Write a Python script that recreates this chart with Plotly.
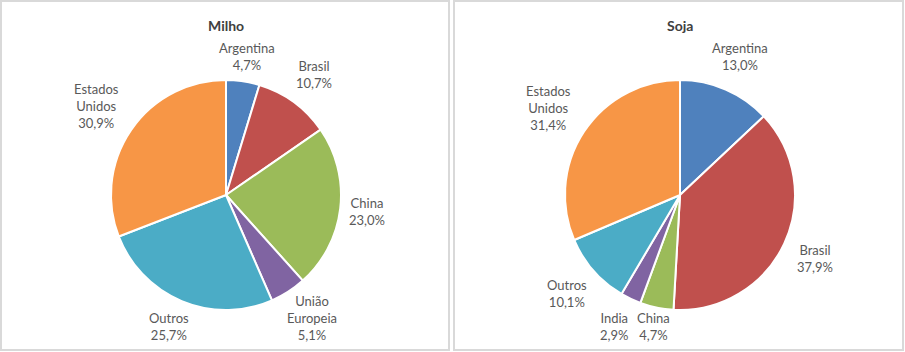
import math
import plotly.graph_objects as go

# Data
milho_categories = ["Argentina", "Brasil", "China", "União Europeia", "Outros", "Estados Unidos"]
milho_values = [4.7, 10.7, 23.0, 5.1, 25.7, 30.9]

soja_categories = ["Argentina", "Brasil", "China", "India", "Outros", "Estados Unidos"]
soja_values = [13.0, 37.9, 4.7, 2.9, 10.1, 31.4]

titles = ["Milho", "Soja"]

palette = {
    "Argentina": "#4F81BD",
    "Brasil": "#C0504D",
    "China": "#9BBB59",
    "União Europeia": "#8064A2",
    "India": "#8064A2",
    "Outros": "#4BACC6",
    "Estados Unidos": "#F79646",
}

W, H = 905, 352
FONT = "Lato, 'Noto Sans', sans-serif"
TEXT_COLOR = "#595959"
FS = 13
LINE_H = 17
CHAR_W = 6.2
GAP = 10
PAD = 8

fig = go.Figure()

centers = [(226, 195), (680, 195)]
R = 115


def fmt(v):
    return ("%.1f" % v).replace(".", ",") + "%"


def add_pie(cats, vals, center):
    cx, cy = center
    fig.add_trace(go.Pie(
        labels=cats,
        values=vals,
        textinfo="none",
        sort=False,
        direction="clockwise",
        rotation=0,
        marker=dict(colors=[palette[c] for c in cats], line=dict(color="white", width=2)),
        domain=dict(x=[(cx - R) / W, (cx + R) / W], y=[(H - cy - R) / H, (H - cy + R) / H]),
        showlegend=False,
        hoverinfo="label+value",
    ))
    # data labels placed outside each slice along its mid angle
    total = sum(vals)
    cum = 0.0
    labels = []
    for c, v in zip(cats, vals):
        mid = (cum + v / 2) / total * 2 * math.pi
        cum += v
        lines = c.split(" ") + [fmt(v)]
        a = max(len(s) for s in lines) * CHAR_W / 2
        b = len(lines) * LINE_H / 2
        ux, uy = math.sin(mid), -math.cos(mid)
        d = R + GAP + a * abs(ux) + b * abs(uy)
        lx = cx + d * ux
        ly = cy + d * uy
        ly = min(ly, 343 - b)
        ly = max(ly, 40 + b)
        labels.append([lx, ly, a, b, lines])
    # push apart neighbouring labels that collide
    n = len(labels)
    for i in range(n):
        p, q = labels[i], labels[(i + 1) % n]
        ox = (p[2] + q[2] + PAD) - abs(p[0] - q[0])
        oy = (p[3] + q[3]) - abs(p[1] - q[1])
        if ox > 0 and oy > 0:
            s = 1 if p[0] > q[0] else -1
            p[0] += s * ox / 2
            q[0] -= s * ox / 2
    for lx, ly, a, b, lines in labels:
        fig.add_annotation(text="<br>".join(lines), x=lx / W, y=1 - ly / H,
                           xref="paper", yref="paper", showarrow=False,
                           xanchor="center", yanchor="middle", align="center",
                           font=dict(family=FONT, size=FS, color=TEXT_COLOR))


add_pie(milho_categories, milho_values, centers[0])
add_pie(soja_categories, soja_values, centers[1])

# Panel boxes
boxes = [(1, 449), (454, 903)]
for (x0, x1) in boxes:
    fig.add_shape(type="rect", xref="paper", yref="paper",
                  x0=x0 / W, x1=x1 / W, y0=1 - 350 / H, y1=1 - 1 / H,
                  line=dict(color="#D9D9D9", width=2), fillcolor="rgba(0,0,0,0)")

# Titles
for t, (cx, cy) in zip(titles, centers):
    fig.add_annotation(text="<b>%s</b>" % t, x=cx / W, y=1 - 25 / H, xref="paper", yref="paper",
                       showarrow=False, xanchor="center", yanchor="middle",
                       font=dict(family=FONT, size=14, color="#404040"))

fig.update_layout(
    width=W, height=H,
    margin=dict(l=0, r=0, t=0, b=0),
    paper_bgcolor="white",
    plot_bgcolor="white",
)

fig.write_html("out.html")
